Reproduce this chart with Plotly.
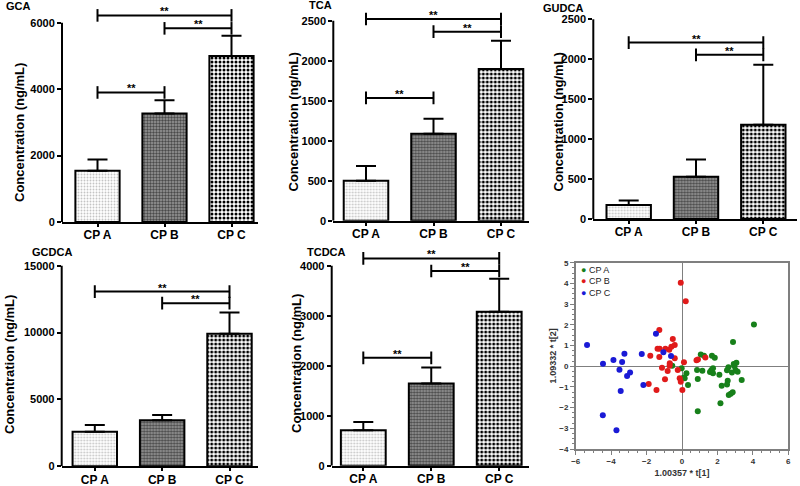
import plotly.graph_objects as go

W, H = 800, 486

# ---------------- data ----------------
categories = ["CP A", "CP B", "CP C"]

gca_mean = [1540, 3265, 5000]
gca_err = [340, 400, 610]
tca_mean = [500, 1087, 1896]
tca_err = [184, 187, 352]
gudca_mean = [175, 529, 1179]
gudca_err = [58, 217, 751]
gcdca_mean = [2580, 3450, 9920]
gcdca_err = [500, 380, 1580]
tcdca_mean = [710, 1646, 3079]
tcdca_err = [166, 318, 662]

gca_ticks = [0, 2000, 4000, 6000]
tca_ticks = [0, 500, 1000, 1500, 2000, 2500]
gudca_ticks = [0, 500, 1000, 1500, 2000, 2500]
gcdca_ticks = [0, 5000, 10000, 15000]
tcdca_ticks = [0, 1000, 2000, 3000, 4000]

# significance brackets: (group i, group j, height)
gca_sig = [(0, 2, 6220), (1, 2, 5830), (0, 1, 3900)]
tca_sig = [(0, 2, 2521), (1, 2, 2363), (0, 1, 1535)]
gudca_sig = [(0, 2, 2208), (1, 2, 2055)]
gcdca_sig = [(0, 2, 13065), (1, 2, 12200)]
tcdca_sig = [(0, 2, 4146), (1, 2, 3894), (0, 1, 2157)]

# PCA score plot
cpa_t1 = [4.06, 2.88, 1.06, 1.24, 1.69, 1.85, 3.07, 2.92, 2.62, 2.54, 3.03, 3.14, 2.82,
          1.66, 1.75, 1.75, 1.58, 2.11, 1.15, 0.85, 0.89, 2.58, 2.54, 2.24, 3.37, 2.86,
          2.75, 2.64, 2.17, 0.89, 0.34, 0.25, 0.15, -0.02, -0.66, 2.96, 0.10, -0.55]
cpa_t2 = [2.02, 1.17, 0.57, 0.51, 0.51, 0.41, 0.17, 0.11, -0.05, -0.20, -0.20, -0.27, -0.30,
          -0.18, -0.10, -0.34, -0.28, -0.41, -0.22, -0.18, -0.62, -0.70, -0.88, -0.94, -0.67, -1.26,
          -1.33, -1.39, -1.79, -2.18, -0.91, -0.34, -0.58, -0.10, 0.06, 0.0, -0.55, 0.02]
cpb_t1 = [-0.07, 0.21, -1.28, -1.38, -1.26, -0.94, -0.72, -0.52, -0.60, -0.41, -0.41, -1.79,
          -1.28, -1.13, -0.81, -0.96, -1.88, -1.44, -0.69, -0.24, -0.13, -0.07, 0.02, 0.11,
          0.82, 1.32, 0.90, -0.70]
cpb_t2 = [4.03, 3.14, 1.75, 0.84, 0.84, 0.84, 0.80, 1.31, 0.94, 1.03, 0.38, 0.51,
          0.44, -0.07, -0.23, -0.63, -0.86, -1.15, 0.14, -0.18, -0.58, -0.75, -1.15, 0.19,
          0.29, 0.42, 0.32, 0.02]
cpc_t1 = [-5.36, -4.46, -3.87, -3.53, -3.38, -3.25, -3.10, -2.93, -3.46, -4.47, -3.70,
          -2.27, -2.18, -1.47, -1.05, -0.62]
cpc_t2 = [1.02, 0.12, 0.30, -0.17, 0.20, 0.60, -0.47, -0.31, -1.20, -2.37, -3.10,
          0.59, -0.91, 1.57, 0.67, 0.49]

panels = [
    ("GCA", gca_mean, gca_err, gca_ticks, gca_sig),
    ("TCA", tca_mean, tca_err, tca_ticks, tca_sig),
    ("GUDCA", gudca_mean, gudca_err, gudca_ticks, gudca_sig),
    ("GCDCA", gcdca_mean, gcdca_err, gcdca_ticks, gcdca_sig),
    ("TCDCA", tcdca_mean, tcdca_err, tcdca_ticks, tcdca_sig),
]

# ---------------- layout geometry (pixels) ----------------
geo = [
    dict(ax=62, ex=258, y0=222, yt=22.7, ytop=8, c0=97.5, sp=67, tx=4, ty=6, yx=19, yy=133),
    dict(ax=333.3, ex=529, y0=220.7, yt=20.7, ytop=8, c0=366, sp=67.5, tx=307, ty=5, yx=292.5, yy=122),
    dict(ax=593.3, ex=796.7, y0=219, yt=19.3, ytop=8, c0=628.7, sp=67.3, tx=541, ty=8, yx=557.5, yy=122),
    dict(ax=61.7, ex=258, y0=466.3, yt=265.7, ytop=250, c0=94.8, sp=67.35, tx=30, ty=252, yx=9, yy=365),
    dict(ax=331.7, ex=529.3, y0=465.7, yt=265.7, ytop=250, c0=363.3, sp=67.95, tx=305, ty=252, yx=296, yy=364),
]

FONT = "Liberation Sans, Arial, sans-serif"
fig = go.Figure()
layout = dict(
    width=W, height=H, margin=dict(l=0, r=0, t=0, b=0),
    paper_bgcolor="white", plot_bgcolor="white", showlegend=False,
    font=dict(family=FONT, color="black"),
)
annotations = []
shapes = []

pat_shape = [".", ".", "."]
pat_fg = ["#c4c4c4", "#4a4a4a", "#000000"]
pat_bg = ["#ffffff", "#9a9a9a", "#ffffff"]
pat_size = [3, 3, 4]
pat_sol = [0.3, 0.5, 0.45]

for k, (name, mean, err, ticks, sig) in enumerate(panels):
    g = geo[k]
    n = k + 1
    xa = "x" if n == 1 else f"x{n}"
    ya = "y" if n == 1 else f"y{n}"
    top = ticks[-1]
    ppu = (g["y0"] - g["yt"]) / top
    ymax = (g["y0"] - g["ytop"]) / ppu
    xr = [-(g["c0"] - g["ax"]) / g["sp"], 2 + (g["ex"] - g["c0"] - 2 * g["sp"]) / g["sp"]]

    fig.add_trace(go.Bar(
        x=[0, 1, 2], y=mean, width=0.66, xaxis=xa, yaxis=ya,
        marker=dict(color="white", line=dict(color="black", width=2),
                    pattern=dict(shape=pat_shape, fgcolor=pat_fg, bgcolor=pat_bg,
                                 size=pat_size, solidity=pat_sol, fillmode="replace")),
        error_y=dict(type="data", symmetric=False, array=err, arrayminus=[0, 0, 0],
                     color="black", thickness=2, width=10),
        hoverinfo="skip",
    ))
    for (i, j, h) in sig:
        fig.add_trace(go.Scatter(
            x=[i, j], y=[h, h], mode="lines+markers", xaxis=xa, yaxis=ya,
            line=dict(color="black", width=2),
            marker=dict(symbol="line-ns", size=9, color="black", line=dict(width=2, color="black")),
            hoverinfo="skip",
        ))
        annotations.append(dict(x=(i + j) / 2, y=h, xref=xa, yref=ya, text="**",
                                showarrow=False, yanchor="bottom", yshift=-4,
                                font=dict(size=11, weight="bold", color="black")))

    layout["xaxis" if n == 1 else f"xaxis{n}"] = dict(
        domain=[g["ax"] / W, g["ex"] / W], range=xr, anchor=ya,
        tickvals=[0, 1, 2], ticktext=categories, showline=True, linecolor="black",
        linewidth=2, ticks="outside", ticklen=3, tickwidth=2, tickcolor="black",
        ticklabelstandoff=-2,
        showgrid=False, zeroline=False, automargin=False,
        tickfont=dict(size=12, weight="bold", color="black"),
    )
    layout["yaxis" if n == 1 else f"yaxis{n}"] = dict(
        domain=[1 - g["y0"] / H, 1 - g["ytop"] / H], range=[0, ymax], anchor=xa,
        tickvals=ticks, tickformat="d", showline=False, ticks="outside", ticklen=4, tickwidth=2,
        tickcolor="black", showgrid=False, zeroline=False, automargin=False,
        tickfont=dict(size=11, weight="bold", color="black"),
    )
    shapes.append(dict(type="line", xref=f"{xa} domain", yref=ya, x0=0, x1=0,
                       y0=0, y1=top, line=dict(color="black", width=2)))
    annotations.append(dict(x=g["tx"] / W, y=1 - g["ty"] / H, xref="paper", yref="paper",
                            text=name, showarrow=False, xanchor="left", yanchor="middle",
                            font=dict(size=11, weight="bold", color="black")))
    annotations.append(dict(x=g["yx"] / W, y=1 - g["yy"] / H, xref="paper", yref="paper",
                            text="Concentration (ng/mL)", showarrow=False, textangle=-90,
                            xanchor="center", yanchor="middle",
                            font=dict(size=13, weight="bold", color="black")))

# ---------------- PCA score plot ----------------
groups = [("CP A", cpa_t1, cpa_t2, "#17801a"),
          ("CP B", cpb_t1, cpb_t2, "#e01a1a"),
          ("CP C", cpc_t1, cpc_t2, "#1a1ad6")]
for name, t1, t2, col in groups:
    fig.add_trace(go.Scatter(x=t1, y=t2, mode="markers", name=name, xaxis="x6", yaxis="y6",
                             marker=dict(size=6, color=col), hoverinfo="skip"))

axcol = "#7f7f7f"
layout["xaxis6"] = dict(
    domain=[575.7 / W, 788.3 / W], range=[-6, 6], anchor="y6", dtick=2,
    showline=True, mirror=True, linecolor=axcol, linewidth=1.5, showgrid=False,
    zeroline=True, zerolinecolor=axcol, zerolinewidth=1.2,
    ticks="outside", ticklen=4, tickcolor=axcol,
    minor=dict(ticks="outside", ticklen=2, dtick=0.5, tickcolor=axcol),
    tickfont=dict(size=8, weight="bold", color="#333333"), automargin=False,
    title=dict(text="1.00357 * t[1]", font=dict(size=9, weight="bold", color="#333333"), standoff=4),
)
layout["yaxis6"] = dict(
    domain=[1 - 449 / H, 1 - 262.7 / H], range=[-4, 5], anchor="x6", dtick=1,
    showline=True, mirror=True, linecolor=axcol, linewidth=1.5, showgrid=False,
    zeroline=True, zerolinecolor=axcol, zerolinewidth=1.2,
    ticks="outside", ticklen=4, tickcolor=axcol,
    minor=dict(ticks="outside", ticklen=2, dtick=0.25, tickcolor=axcol),
    tickfont=dict(size=8, weight="bold", color="#333333"), automargin=False,
    title=dict(text="1.09332 * t[2]", font=dict(size=9, weight="bold", color="#333333"), standoff=1),
)
for idx, (name, t1, t2, col) in enumerate(groups):
    annotations.append(dict(x=579 / W, y=1 - (269.5 + 11.7 * idx) / H, xref="paper", yref="paper",
                            text=f'<span style="color:{col}">●</span> {name}', showarrow=False,
                            xanchor="left", yanchor="middle",
                            font=dict(size=9, color="#222222")))

layout["annotations"] = annotations
layout["shapes"] = shapes
fig.update_layout(**layout)
fig.write_html("out.html", config={"displayModeBar": False},
               post_script="document.body.style.margin='0px';")
